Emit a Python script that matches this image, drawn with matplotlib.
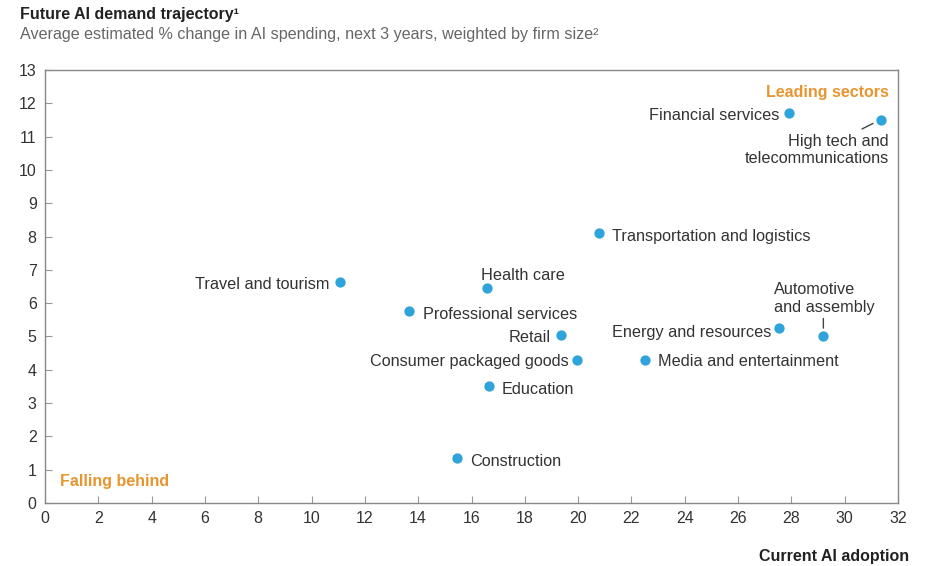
import matplotlib
matplotlib.use("Agg")
import matplotlib.pyplot as plt

plt.rcParams['font.family'] = ['Liberation Sans', 'DejaVu Sans']

sectors = ["Financial services", "High tech and\ntelecommunications", "Transportation and logistics",
           "Travel and tourism", "Health care", "Professional services", "Retail",
           "Energy and resources", "Automotive\nand assembly", "Consumer packaged goods",
           "Media and entertainment", "Education", "Construction"]
adoption = [27.9, 31.35, 20.8, 11.05, 16.6, 13.65, 19.35, 27.55, 29.2, 19.95, 22.5, 16.65, 15.45]
spending = [11.7, 11.5, 8.1, 6.65, 6.45, 5.75, 5.05, 5.25, 5.0, 4.3, 4.3, 3.5, 1.35]

# label offsets in pixels, alignment
offsets = [(-9, -2, 'right'), (8, -30, 'right'), (13, -3, 'left'),
           (-10, -3, 'right'), (-6, 13, 'left'),
           (14, -3, 'left'), (-10, -3, 'right'), (-8, -4, 'right'),
           (-49, 38, 'left'), (-8, -2, 'right'), (13, -2, 'left'),
           (13, -3, 'left'), (13, -3, 'left')]

fig = plt.figure(figsize=(9.28, 5.66), dpi=100)
ax = fig.add_axes([45/928, 1-503/566, 853/928, 433/566])

dot = '#2FA4DA'
txt = '#333333'
orange = '#E8952F'
ax.scatter(adoption, spending, s=55, color=dot, zorder=3, linewidths=0)

for name, x, y, (dx, dy, ha) in zip(sectors, adoption, spending, offsets):
    ax.annotate(name, (x, y), xytext=(dx, dy), textcoords='offset pixels',
                ha=ha, va='center', fontsize=11.7, color=txt, linespacing=1.2)

# leader lines
ax.annotate('', (31.25, 11.47), xytext=(-16, -8), textcoords='offset pixels',
            arrowprops=dict(arrowstyle='-', color='#444444', lw=1, shrinkA=0, shrinkB=4))
ax.annotate('', (29.2, 5.0), xytext=(0, 18), textcoords='offset pixels',
            arrowprops=dict(arrowstyle='-', color='#444444', lw=1, shrinkA=0, shrinkB=6))

ax.text(0.989, 0.948, "Leading sectors", transform=ax.transAxes, ha='right', va='center',
        fontsize=11.5, fontweight='bold', color=orange)
ax.text(0.018, 0.05, "Falling behind", transform=ax.transAxes, ha='left', va='center',
        fontsize=11.5, fontweight='bold', color=orange)

ax.set_xlim(0, 32)
ax.set_ylim(0, 13)
ax.set_xticks(range(0, 33, 2))
ax.set_yticks(range(0, 14))
ax.tick_params(direction='in', length=5, color='#999999', labelsize=11.5, labelcolor=txt)
ax.tick_params(axis='x', pad=6)
ax.tick_params(axis='y', pad=6)
for s in ax.spines.values():
    s.set_color('#888888')
    s.set_linewidth(1)

fig.text(20/928, 1-15/566, "Future AI demand trajectory¹", ha='left', va='center',
         fontsize=11.5, fontweight='bold', color='#222222')
fig.text(20/928, 1-34/566, "Average estimated % change in AI spending, next 3 years, weighted by firm size²",
         ha='left', va='center', fontsize=11.6, color='#666666')
fig.text(909/928, 1-556/566, "Current AI adoption", ha='right', va='center',
         fontsize=11.5, fontweight='bold', color='#222222')

fig.savefig("out.png", dpi=100)
